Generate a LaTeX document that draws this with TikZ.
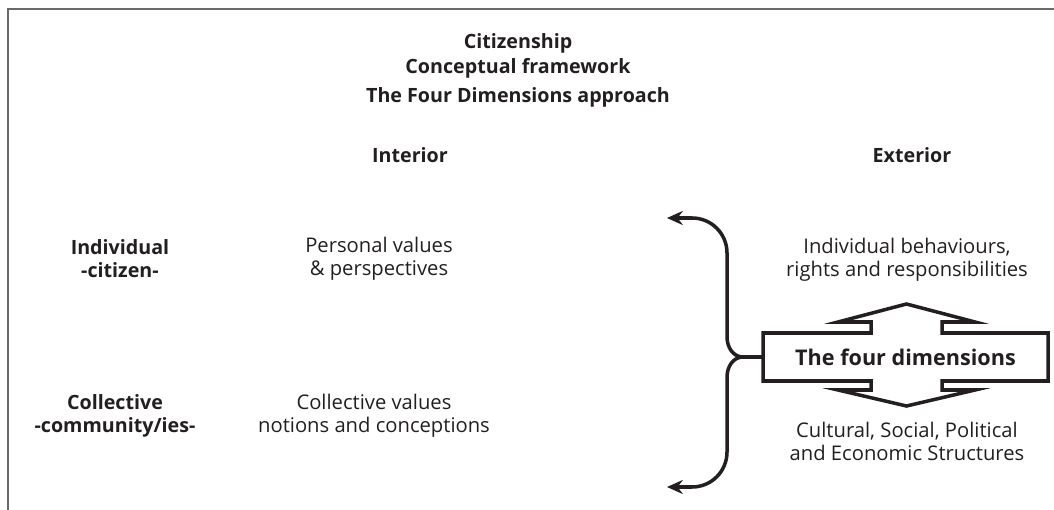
\documentclass[tikz,border=0pt]{standalone}
\usepackage{fontspec}
\setmainfont{Open Sans}
\usetikzlibrary{arrows.meta}
\definecolor{ink}{HTML}{231F20}
\definecolor{rulegray}{HTML}{6A6A6A}
\tikzset{
  lbl/.style={align=center,text=ink,inner sep=0pt,font=\fontsize{11.5}{13}\selectfont},
  hdr/.style={lbl,font=\fontsize{11.2}{13}\selectfont\bfseries},
  frame/.style={draw=rulegray,line width=1.1pt},
  outline/.style={draw=ink,line width=2pt,line join=miter},
  brace/.style={draw=ink,line width=2pt,
    {Stealth[length=9pt,width=8pt,inset=3pt]}-{Stealth[length=9pt,width=8pt,inset=3pt]}},
  link/.style={draw=ink,line width=2pt}
}

\begin{document}
\begin{tikzpicture}
\useasboundingbox (0,0) rectangle (21.08,-10.2);
%frame
\draw[frame] (0.16,-10.2) -- (0.16,-0.18) -- (21.08,-0.18);

%title
\node[hdr] (title1) at (10.36,-0.86) {Citizenship};
\node[hdr] (title2) at (10.36,-1.36) {Conceptual framework};
\node[hdr] (title3) at (10.36,-1.94) {The Four Dimensions approach};

%column heads
\node[hdr] (interior) at (8.2,-3.1) {Interior};
\node[hdr] (exterior) at (18.24,-3.1) {Exterior};

%rows
\node[hdr] (indiv) at (2.4,-5.18) {Individual\\-citizen-};
\node[lbl] (persval) at (7.58,-5.18) {Personal values\\\& perspectives};
\node[lbl] (behav) at (18.14,-5.2) {Individual behaviours,\\rights and responsibilities};

\node[hdr] (coll) at (2.3,-8.32) {Collective\\-community/ies-};
\node[lbl] (collval) at (7.48,-8.32) {Collective values\\notions and conceptions};
\node[lbl] (struct) at (18.14,-8.82) {Cultural, Social, Political\\and Economic Structures};

%four dimensions box with arrows
\draw[outline] (15.26,-6.66) -- (17.42,-6.66) -- (17.42,-6.44) -- (16.76,-6.44) -- (18.13,-6.08)
  -- (19.50,-6.44) -- (18.84,-6.44) -- (18.84,-6.66) -- (20.96,-6.66) -- (20.96,-7.62)
  -- (18.84,-7.62) -- (18.84,-7.80) -- (19.50,-7.80) -- (18.13,-8.12) -- (16.76,-7.80)
  -- (17.42,-7.80) -- (17.42,-7.62) -- (15.26,-7.62) -- cycle;
\node[hdr,font=\fontsize{12.3}{14}\selectfont\bfseries,minimum width=5.7cm,minimum height=0.96cm]
  (dims) at (18.11,-7.14) {The four dimensions};

%brace
\coordinate (up) at (13.34,-4.36);
\coordinate (down) at (13.34,-9.74);
\coordinate (tip) at (14.86,-7.14);
\draw[brace] (up) -- (13.84,-4.36) to[out=0,in=90] (14.54,-5.06) -- (14.54,-6.74)
  to[out=-90,in=180] (tip) to[out=180,in=90] (14.54,-7.54) -- (14.54,-9.04)
  to[out=-90,in=0] (13.84,-9.74) -- (down);
\draw[link] (tip) -- (dims.west);
\end{tikzpicture}
\end{document}
